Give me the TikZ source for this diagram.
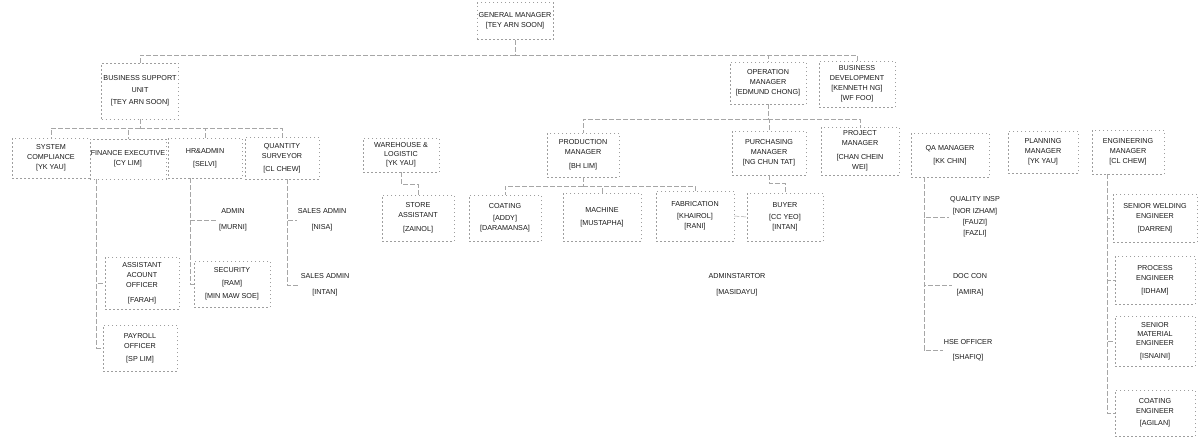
\documentclass[tikz,border=0pt]{standalone}
\usepackage{fontspec}
\usepackage{xcolor}
\usepackage{tikz}
\usetikzlibrary{positioning,calc}
\newfontfamily\orgfont{Liberation Sans}
\newcommand{\who}[1]{{[}#1{]}}

\tikzset{
  post/.style={draw=black!38, dash pattern=on 1.5pt off 2.5pt, line width=0.5pt,
    align=center, text=black!90, inner sep=1pt,
    font=\orgfont\fontsize{7.2}{10}\selectfont},
  bare/.style={align=center, text=black!90, inner sep=1pt,
    font=\orgfont\fontsize{7.2}{10}\selectfont},
  link/.style={draw=black!35, dash pattern=on 5pt off 2pt, line width=0.5pt},
}

\begin{document}
\begin{tikzpicture}[x=1pt,y=-1pt]
  \useasboundingbox (0,0) rectangle (1199,439);

  % Top level
  \node[post, minimum width=76pt, minimum height=37pt] (gm) at (515,21) {GENERAL MANAGER\\\who{TEY ARN SOON}};
  \node[post, minimum width=77pt, minimum height=56pt] (bsu) at (140,91) {BUSINESS SUPPORT\\[2pt]UNIT\\[2pt]\who{TEY ARN SOON}};
  \node[post, minimum width=76pt, minimum height=42pt] (ops) at (768,83) {OPERATION\\MANAGER\\\who{EDMUND CHONG}};
  \node[post, minimum width=76pt, minimum height=46pt] (bd) at (857,84) {BUSINESS\\DEVELOPMENT\\\who{KENNETH NG}\\\who{WF FOO}};

  % Second row
  \node[post, minimum width=78pt, minimum height=40pt] (sc) at (51,158) {SYSTEM\\COMPLIANCE\\\who{YK YAU}};
  \node[post, minimum width=76pt, minimum height=40pt] (fin) at (128,159) {FINANCE EXECUTIVE\\\who{CY LIM}};
  \node[post, minimum width=74pt, minimum height=40pt] (hr) at (205,158) {HR\&ADMIN\\[3pt]\who{SELVI}};
  \node[post, minimum width=74pt, minimum height=42pt] (qs) at (282,158) {QUANTITY\\SURVEYOR\\[3pt]\who{CL CHEW}};
  \node[post, minimum width=76pt, minimum height=34pt] (wh) at (401,155) {WAREHOUSE \&\\[-1pt]LOGISTIC\\[-1pt]\who{YK YAU}};
  \node[post, minimum width=72pt, minimum height=44pt] (pm) at (583,155) {PRODUCTION\\MANAGER\\[4pt]\who{BH LIM}};
  \node[post, minimum width=74pt, minimum height=44pt] (purch) at (769,153) {PURCHASING\\MANAGER\\\who{NG CHUN TAT}};
  \node[post, minimum width=78pt, minimum height=48pt] (proj) at (860,151) {PROJECT\\MANAGER\\[4pt]{[}CHAN CHEIN\\WEI{]}};
  \node[post, minimum width=78pt, minimum height=44pt] (qa) at (950,155) {QA MANAGER\\[3pt]\who{KK CHIN}};
  \node[post, minimum width=70pt, minimum height=42pt] (plan) at (1043,152) {PLANNING\\MANAGER\\\who{YK YAU}};
  \node[post, minimum width=72pt, minimum height=44pt] (eng) at (1128,152) {ENGINEERING\\MANAGER\\\who{CL CHEW}};

  % Third row
  \node[bare] (adm) at (233,220) {ADMIN\\[6pt]\who{MURNI}};
  \node[bare] (sa1) at (322,220) {SALES ADMIN\\[6pt]\who{NISA}};
  \node[post, minimum width=72pt, minimum height=46pt] (store) at (418,218) {STORE\\ASSISTANT\\[4pt]\who{ZAINOL}};
  \node[post, minimum width=72pt, minimum height=46pt] (coat) at (505,218) {COATING\\[2pt]\who{ADDY}\\\who{DARAMANSA}};
  \node[post, minimum width=78pt, minimum height=48pt] (mach) at (602,217) {MACHINE\\[3pt]\who{MUSTAPHA}};
  \node[post, minimum width=78pt, minimum height=50pt] (fab) at (695,216) {FABRICATION\\[2pt]\who{KHAIROL}\\\who{RANI}};
  \node[post, minimum width=76pt, minimum height=48pt] (buyer) at (785,217) {BUYER\\[2pt]\who{CC YEO}\\\who{INTAN}};
  \node[bare] (qi) at (975,217) {QUALITY INSP\\[2pt]\who{NOR IZHAM}\\[1pt]\who{FAUZI}\\[1pt]\who{FAZLI}};
  \node[post, minimum width=84pt, minimum height=48pt] (swe) at (1155,218) {SENIOR WELDING\\ENGINEER\\[3pt]\who{DARREN}};

  % Fourth row
  \node[post, minimum width=74pt, minimum height=52pt] (aao) at (142,283) {ASSISTANT\\ACOUNT\\OFFICER\\[5pt]\who{FARAH}};
  \node[post, minimum width=76pt, minimum height=46pt] (sec) at (232,284) {SECURITY\\[3pt]\who{RAM}\\[3pt]\who{MIN MAW SOE}};
  \node[bare] (sa2) at (325,285) {SALES ADMIN\\[6pt]\who{INTAN}};
  \node[bare] (admr) at (737,285) {ADMINSTARTOR\\[6pt]\who{MASIDAYU}};
  \node[bare] (doc) at (970,285) {DOC CON\\[6pt]\who{AMIRA}};
  \node[post, minimum width=80pt, minimum height=48pt] (pe) at (1155,280) {PROCESS\\ENGINEER\\[3pt]\who{IDHAM}};

  % Fifth row
  \node[post, minimum width=74pt, minimum height=46pt] (pay) at (140,348) {PAYROLL\\OFFICER\\[3pt]\who{SP LIM}};
  \node[bare] (hse) at (968,350) {HSE OFFICER\\[5pt]\who{SHAFIQ}};
  \node[post, minimum width=80pt, minimum height=50pt] (sme) at (1155,341) {SENIOR\\[-1pt]MATERIAL\\[-1pt]ENGINEER\\[3pt]\who{ISNAINI}};
  \node[post, minimum width=80pt, minimum height=46pt] (ce) at (1155,413) {COATING\\ENGINEER\\[2pt]\who{AGILAN}};

  % Lines from the general manager
  \coordinate (topbus) at (515,55);
  \draw[link] (gm.south) -- (topbus);
  \draw[link] (topbus) -| (bsu.north);
  \draw[link] (topbus) -| (ops.north);
  \draw[link] (topbus) -| (bd.north);

  % Business support unit
  \coordinate (bsubus) at (140,128);
  \draw[link] (bsu.south) -- (bsubus);
  \foreach \n in {sc,fin,hr,qs}
    \draw[link] (bsubus) -| (\n.north);
  \draw[link] ([xshift=7pt]fin.south west) |- (aao.west);
  \draw[link] ([xshift=7pt]fin.south west) |- (pay.west);
  \draw[link] ([xshift=-15pt]hr.south) |- (adm.west);
  \draw[link] ([xshift=-15pt]hr.south) |- (sec.west);
  \draw[link] ([xshift=5pt]qs.south) |- (sa1.west);
  \draw[link] ([xshift=5pt]qs.south) |- (sa2.west);
  \draw[link] (wh.south) -- ++(0,12) -| (store.north);

  % Operation manager
  \coordinate (opsbus) at (768,119);
  \draw[link] (ops.south) -- (opsbus);
  \foreach \n in {pm,purch,proj}
    \draw[link] (opsbus) -| (\n.north);
  \coordinate (pmbus) at (583,186);
  \draw[link] (pm.south) -- (pmbus);
  \foreach \n in {coat,mach,fab}
    \draw[link] (pmbus) -| (\n.north);
  \draw[link] (purch.south) -- ++(0,8) -| (buyer.north);
  \draw[link] (fab.east) -- (buyer.west);

  % QA and engineering
  \foreach \n in {qi,doc,hse}
    \draw[link] ([xshift=13pt]qa.south west) |- (\n.west);
  \foreach \n in {swe,pe,sme,ce}
    \draw[link] ([xshift=15pt]eng.south west) |- (\n.west);
\end{tikzpicture}
\end{document}
